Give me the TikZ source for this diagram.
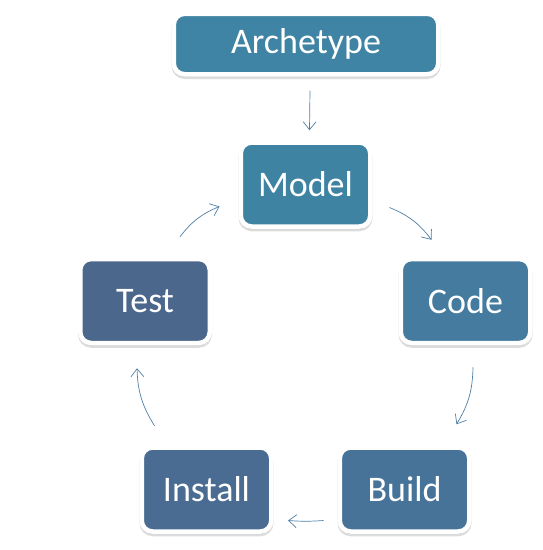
\documentclass[tikz,border=0pt]{standalone}
\usepackage{fontspec}
\setmainfont{Carlito}
\usetikzlibrary{arrows.meta,shadows}
\definecolor{archcol}{HTML}{3F84A4}
\definecolor{modelcol}{HTML}{3F83A3}
\definecolor{codecol}{HTML}{447B9E}
\definecolor{buildcol}{HTML}{477399}
\definecolor{installcol}{HTML}{4A6C92}
\definecolor{testcol}{HTML}{4C678C}
\definecolor{flowcol}{HTML}{4F7FA6}
\begin{document}
\begin{tikzpicture}[x=1pt,y=-1pt,
	stage/.style={draw=white,line width=4.5pt,rounded corners=11pt,text=white,
		font=\fontsize{36}{43}\selectfont,inner sep=0pt,
		minimum width=129.5pt,minimum height=84pt,
		drop shadow={shadow xshift=0pt,shadow yshift=-2.5pt,fill=black!45,
			draw=black!45,line width=4.5pt,opacity=0.3}},
	flow/.style={draw=flowcol,line width=0.7pt,-{Straight Barb[length=8pt,width=13pt]}}]
	\useasboundingbox (0,0) rectangle (543,550);
	% the six stages
	\node[stage,fill=archcol,minimum width=264.5pt,minimum height=60.5pt] (archetype) at (306,44) {Archetype};
	\node[stage,fill=modelcol] (model) at (305.5,184.5) {Model};
	\node[stage,fill=codecol] (code) at (465.5,301) {Code};
	\node[stage,fill=buildcol] (build) at (404.5,489.5) {Build};
	\node[stage,fill=installcol] (install) at (206.5,489.5) {Install};
	\node[stage,fill=testcol] (test) at (145,301) {Test};
	
	% the cycle
	\draw[flow] ([shift={(4,14)}]archetype.south) -- ([shift={(4,-10)}]model.north);
	\draw[flow] ([shift={(17,23)}]model.east) to[bend left=15] ([shift={(-34,-17)}]code.north);
	\draw[flow] ([shift={(7.5,22)}]code.south) to[bend left=15] ([shift={(52,-21)}]build.north);
	\draw[flow] ([shift={(-14,31)}]build.west) to[bend left=4] ([shift={(14.5,31)}]install.east);
	\draw[flow] ([shift={(-52,-19.5)}]install.north) to[bend left=15] ([shift={(-8,23)}]test.south);
	\draw[flow] ([shift={(35,-20)}]test.north) to[bend left=15] ([shift={(-19,22)}]model.west);
\end{tikzpicture}
\end{document}
